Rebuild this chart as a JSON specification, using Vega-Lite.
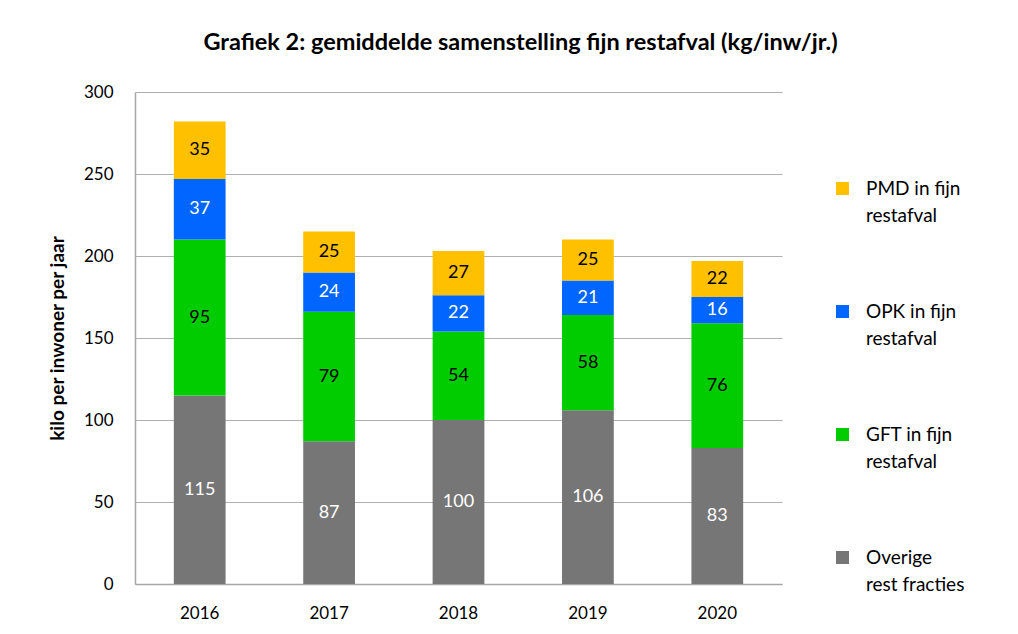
{
  "$schema": "https://vega.github.io/schema/vega-lite/v6.json",
  "autosize": "none",
  "width": 647,
  "height": 492,
  "padding": {"left": 135, "top": 92, "right": 236, "bottom": 50},
  "background": "white",
  "config": {"view": {"stroke": null}, "style": {"guide-label": {"lineHeight": 27}}},
  "title": {
    "text": "Grafiek  2: gemiddelde samenstelling fijn restafval (kg/inw/jr.)",
    "font": "Lato",
    "fontSize": 23.5,
    "fontWeight": "bold",
    "color": "#000000",
    "anchor": "middle",
    "dx": 62,
    "offset": 29
  },
  "data": {
    "values": [
      {"jaar": "2016", "categorie": "Overige rest fracties", "waarde": 115, "volgorde": 1},
      {"jaar": "2016", "categorie": "GFT in fijn restafval", "waarde": 95, "volgorde": 2},
      {"jaar": "2016", "categorie": "OPK in fijn restafval", "waarde": 37, "volgorde": 3},
      {"jaar": "2016", "categorie": "PMD in fijn restafval", "waarde": 35, "volgorde": 4},
      {"jaar": "2017", "categorie": "Overige rest fracties", "waarde": 87, "volgorde": 1},
      {"jaar": "2017", "categorie": "GFT in fijn restafval", "waarde": 79, "volgorde": 2},
      {"jaar": "2017", "categorie": "OPK in fijn restafval", "waarde": 24, "volgorde": 3},
      {"jaar": "2017", "categorie": "PMD in fijn restafval", "waarde": 25, "volgorde": 4},
      {"jaar": "2018", "categorie": "Overige rest fracties", "waarde": 100, "volgorde": 1},
      {"jaar": "2018", "categorie": "GFT in fijn restafval", "waarde": 54, "volgorde": 2},
      {"jaar": "2018", "categorie": "OPK in fijn restafval", "waarde": 22, "volgorde": 3},
      {"jaar": "2018", "categorie": "PMD in fijn restafval", "waarde": 27, "volgorde": 4},
      {"jaar": "2019", "categorie": "Overige rest fracties", "waarde": 106, "volgorde": 1},
      {"jaar": "2019", "categorie": "GFT in fijn restafval", "waarde": 58, "volgorde": 2},
      {"jaar": "2019", "categorie": "OPK in fijn restafval", "waarde": 21, "volgorde": 3},
      {"jaar": "2019", "categorie": "PMD in fijn restafval", "waarde": 25, "volgorde": 4},
      {"jaar": "2020", "categorie": "Overige rest fracties", "waarde": 83, "volgorde": 1},
      {"jaar": "2020", "categorie": "GFT in fijn restafval", "waarde": 76, "volgorde": 2},
      {"jaar": "2020", "categorie": "OPK in fijn restafval", "waarde": 16, "volgorde": 3},
      {"jaar": "2020", "categorie": "PMD in fijn restafval", "waarde": 22, "volgorde": 4}
    ]
  },
  "transform": [
    {"stack": "waarde", "groupby": ["jaar"], "sort": [{"field": "volgorde", "order": "ascending"}], "as": ["y0", "y1"]},
    {"calculate": "(datum.y0 + datum.y1) / 2", "as": "midden"}
  ],
  "encoding": {
    "x": {
      "field": "jaar",
      "type": "ordinal",
      "title": null,
      "scale": {"paddingInner": 0.6, "paddingOuter": 0.3},
      "axis": {
        "labelAngle": 0,
        "labelFont": "Lato",
        "labelFontSize": 17,
        "labelColor": "#000000",
        "labelPadding": 21,
        "ticks": false,
        "domainColor": "#A6A6A6",
        "domainWidth": 1.5
      }
    }
  },
  "layer": [
    {
      "mark": {"type": "bar"},
      "encoding": {
        "y": {
          "field": "y0",
          "type": "quantitative",
          "scale": {"domain": [0, 300]},
          "title": "kilo per inwoner per jaar",
          "axis": {
            "values": [0, 50, 100, 150, 200, 250, 300],
            "labelFont": "Lato",
            "labelFontSize": 17,
            "labelColor": "#000000",
            "labelPadding": 22,
            "ticks": false,
            "domainColor": "#A6A6A6",
            "domainWidth": 1.5,
            "gridColor": "#B0B0B0",
            "gridWidth": 1.2,
            "titleFont": "Lato",
            "titleFontSize": 19,
            "titleFontWeight": "bold",
            "titleColor": "#000000",
            "titlePadding": 16
          }
        },
        "y2": {"field": "y1"},
        "color": {
          "field": "categorie",
          "type": "nominal",
          "scale": {
            "domain": ["PMD in fijn restafval", "OPK in fijn restafval", "GFT in fijn restafval", "Overige rest fracties"],
            "range": ["#FFC000", "#0066FF", "#00CC00", "#767676"]
          },
          "legend": {
            "title": null,
            "orient": "none",
            "legendX": 698,
            "legendY": 87,
            "symbolType": "square",
            "symbolSize": 170,
            "symbolStrokeWidth": 0,
            "labelFont": "Lato",
            "labelFontSize": 19,
            "labelColor": "#000000",
            "labelLimit": 200,
            "rowPadding": 76,
            "labelOffset": 14,
            "labelExpr": "datum.label == 'Overige rest fracties' ? ['Overige', 'rest fracties'] : [split(datum.label, ' restafval')[0], 'restafval']"
          }
        }
      }
    },
    {
      "mark": {"type": "text", "font": "Lato", "fontSize": 18, "baseline": "middle"},
      "encoding": {
        "y": {"field": "midden", "type": "quantitative"},
        "text": {"field": "waarde", "type": "quantitative"},
        "color": {
          "condition": {"test": "datum.volgorde == 1 || datum.volgorde == 3", "value": "#FFFFFF"},
          "value": "#000000"
        }
      }
    }
  ]
}
